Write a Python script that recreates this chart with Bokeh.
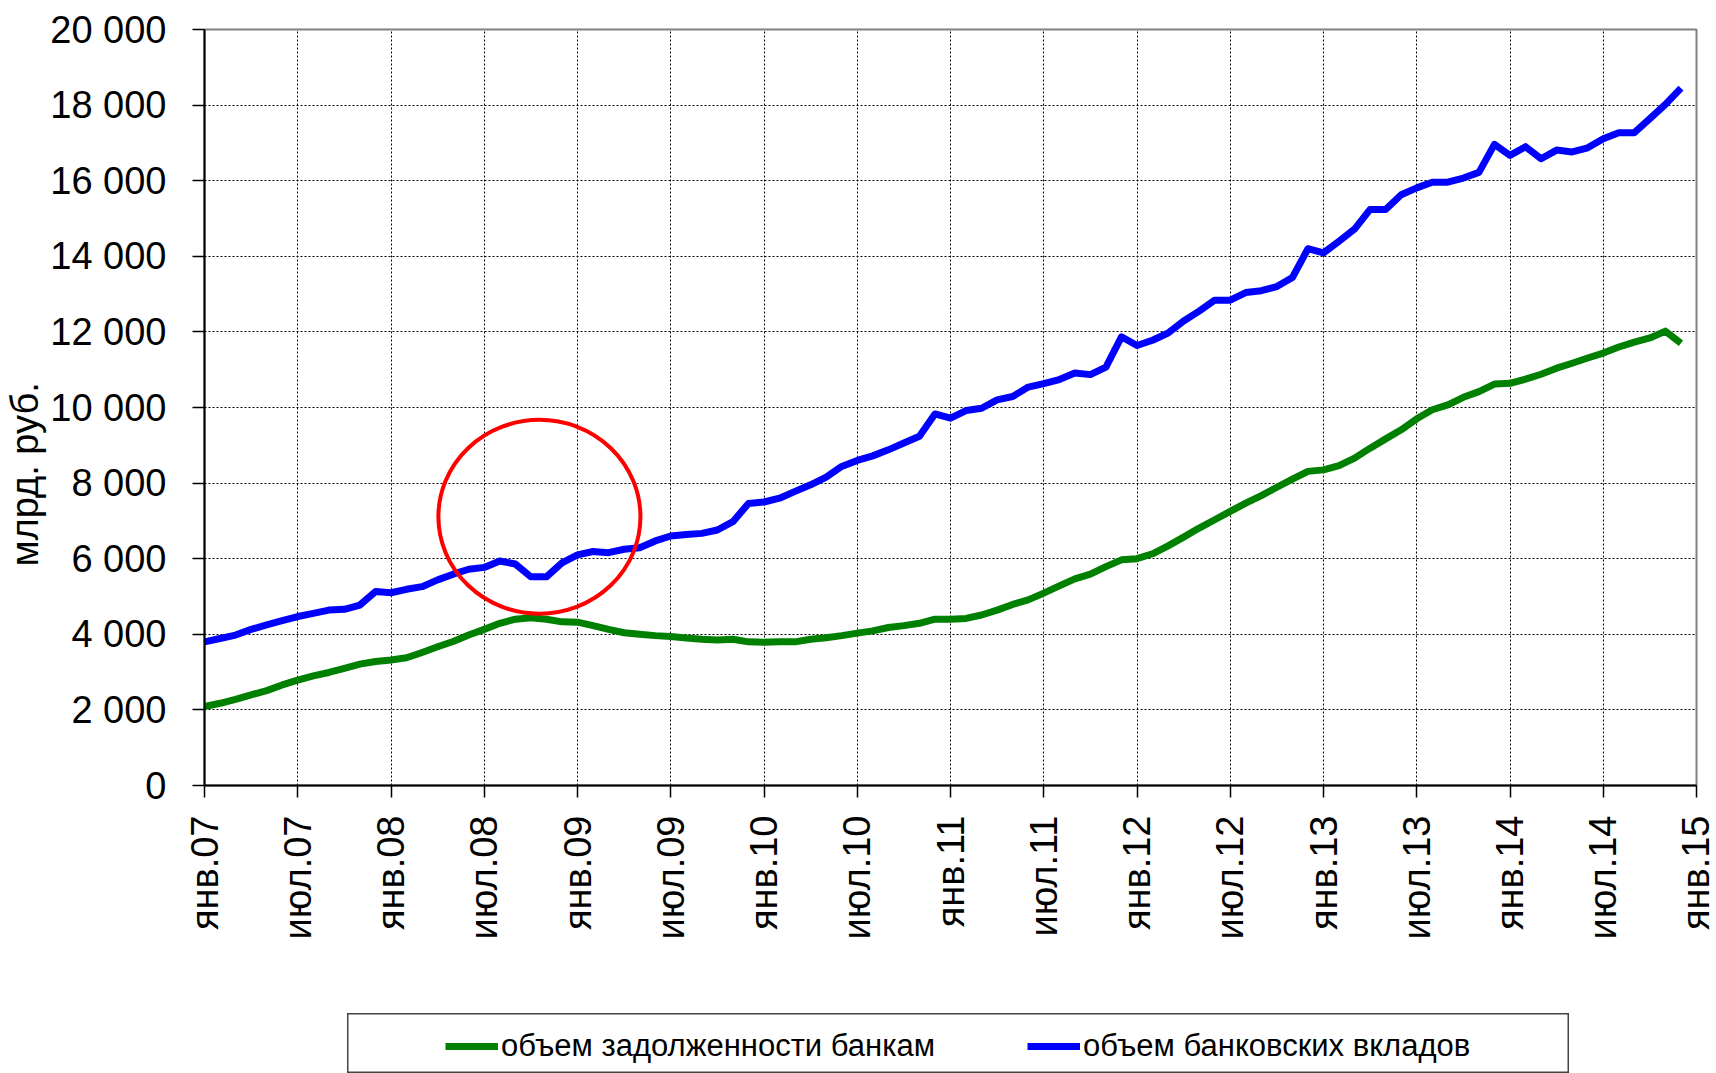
import math
from bokeh.plotting import figure
from bokeh.models import (Range1d, FixedTicker, Title, Legend, LegendItem,
                          ColumnDataSource, Spacer)
from bokeh.layouts import column, row
from bokeh.embed import file_html
from bokeh.resources import INLINE

# ---------------- DATA ----------------
# monthly observations, Jan 2007 .. Dec 2014 (index 0..95)
month_index = list(range(96))

# объем банковских вкладов, млрд руб.
deposits = [3800, 3890, 3980, 4130, 4250, 4360, 4470, 4555, 4640, 4660, 4775, 5130,
            5100, 5190, 5260, 5440, 5590, 5720, 5770, 5940, 5860, 5520, 5520, 5890,
            6100, 6190, 6160, 6250, 6290, 6470, 6600, 6640, 6670, 6760, 6980, 7460,
            7500, 7600, 7780, 7955, 8160, 8440, 8600, 8720, 8880, 9060, 9240, 9830,
            9720, 9920, 9980, 10200, 10290, 10540, 10630, 10740, 10910, 10870, 11070, 11870,
            11640, 11780, 11970, 12290, 12550, 12840, 12840, 13040, 13090, 13200, 13440, 14200,
            14090, 14400, 14720, 15240, 15240, 15630, 15810, 15960, 15960, 16070, 16220, 16960,
            16670, 16900, 16580, 16810, 16760, 16870, 17110, 17270, 17270, 17640, 18020, 18450]

# объем задолженности банкам, млрд руб.
debt = [2090, 2175, 2280, 2400, 2510, 2660, 2790, 2900, 2990, 3100, 3210, 3280,
        3320, 3380, 3520, 3670, 3810, 3980, 4130, 4290, 4400, 4440, 4400, 4330,
        4320, 4230, 4130, 4040, 4000, 3965, 3940, 3900, 3870, 3850, 3870, 3800,
        3790, 3800, 3800, 3870, 3910, 3965, 4030, 4090, 4180, 4230, 4290, 4400,
        4400, 4420, 4510, 4640, 4790, 4910, 5090, 5280, 5465, 5590, 5790, 5970,
        6000, 6130, 6340, 6570, 6810, 7030, 7250, 7470, 7670, 7890, 8105, 8310,
        8350, 8460, 8660, 8925, 9170, 9410, 9700, 9940, 10070, 10270, 10420, 10620,
        10640, 10750, 10880, 11040, 11170, 11310, 11440, 11600, 11730, 11840, 12020, 11700]

x_tick_positions = [0, 6, 12, 18, 24, 30, 36, 42, 48, 54, 60, 66, 72, 78, 84, 90, 96]
x_tick_labels = ["янв.07", "июл.07", "янв.08", "июл.08", "янв.09", "июл.09",
                 "янв.10", "июл.10", "янв.11", "июл.11", "янв.12", "июл.12",
                 "янв.13", "июл.13", "янв.14", "июл.14", "янв.15"]

y_tick_positions = [0, 2000, 4000, 6000, 8000, 10000, 12000, 14000, 16000, 18000, 20000]
y_tick_labels = ["0", "2 000", "4 000", "6 000", "8 000", "10 000",
                 "12 000", "14 000", "16 000", "18 000", "20 000"]

series_names = ["объем задолженности банкам", "объем банковских вкладов"]
y_title = "млрд. руб."

# highlight ellipse (data units: month index, value)
circle_x = [21.55]
circle_y = [7110]
circle_w = [13.0]
circle_h = [5130]

FONT = "Liberation Sans"
GREEN = "#008000"
BLUE = "#0000FF"

# ---------------- MAIN FIGURE ----------------
p = figure(width=1716, height=1013, output_backend="svg", toolbar_location=None,
           x_range=Range1d(0, 96), y_range=Range1d(0, 20000),
           min_border_left=204, min_border_right=20, min_border_top=29,
           min_border_bottom=228)
p.outline_line_color = "#808080"
p.outline_line_width = 2
p.background_fill_color = "white"
p.border_fill_color = "white"

# x axis
p.xaxis.ticker = FixedTicker(ticks=x_tick_positions)
p.xaxis.major_label_overrides = {pos: lab for pos, lab in zip(x_tick_positions, x_tick_labels)}
p.xaxis.major_label_orientation = math.pi / 2
p.xaxis.major_label_text_font = FONT
p.xaxis.major_label_text_font_size = "38px"
p.xaxis.major_label_text_color = "black"
p.xaxis.major_tick_out = 12
p.xaxis.major_tick_in = 0
p.xaxis.minor_tick_out = 0
p.xaxis.minor_tick_in = 0
p.xaxis.axis_line_width = 2
p.xaxis.axis_line_color = "black"
p.xaxis.major_tick_line_color = "black"
p.xaxis.major_tick_line_width = 1.5
p.xaxis.major_label_standoff = 18

# y axis
p.yaxis.ticker = FixedTicker(ticks=y_tick_positions)
p.yaxis.major_label_overrides = {pos: lab for pos, lab in zip(y_tick_positions, y_tick_labels)}
p.yaxis.major_label_text_font = FONT
p.yaxis.major_label_text_font_size = "38px"
p.yaxis.major_label_text_color = "black"
p.yaxis.major_tick_out = 12
p.yaxis.major_tick_in = 0
p.yaxis.minor_tick_out = 0
p.yaxis.minor_tick_in = 0
p.yaxis.axis_line_width = 2
p.yaxis.axis_line_color = "black"
p.yaxis.major_tick_line_color = "black"
p.yaxis.major_tick_line_width = 1.5
p.yaxis.major_label_standoff = 26

# grids
p.xgrid.ticker = FixedTicker(ticks=x_tick_positions)
p.ygrid.ticker = FixedTicker(ticks=y_tick_positions)
for g in (p.xgrid, p.ygrid):
    g.grid_line_color = "black"
    g.grid_line_dash = "2 2"
    g.grid_line_width = 1
    g.grid_line_alpha = 1.0

# series
p.line(month_index, debt, line_color=GREEN, line_width=7, line_join="round")
p.line(month_index, deposits, line_color=BLUE, line_width=7, line_join="round")

# highlight
p.ellipse(x=circle_x, y=circle_y, width=circle_w, height=circle_h,
          fill_color=None, line_color="#FF0000", line_width=4)

# y-axis title (left panel; starts 219px above the frame bottom like the original)
p.add_layout(Title(text=y_title, align="left", offset=219, standoff=3,
                   text_font=FONT, text_font_size="38px",
                   text_font_style="normal", text_color="black"), "left")

# ---------------- LEGEND BOX ----------------
lf = figure(width=1222, height=60, output_backend="svg", toolbar_location=None,
            x_range=Range1d(0, 1), y_range=Range1d(0, 1), min_border=0,
            x_axis_location=None, y_axis_location=None)
lf.xgrid.visible = False
lf.ygrid.visible = False
lf.outline_line_color = "#444444"
lf.outline_line_width = 2
lf.background_fill_color = "white"
lf.border_fill_color = "white"

# legend swatches: renderers whose points lie outside the visible range
swatch_g = ColumnDataSource(dict(x=[5, 6], y=[5, 5]))
swatch_b = ColumnDataSource(dict(x=[5, 6], y=[5, 5]))
rg = lf.line("x", "y", source=swatch_g, line_color=GREEN, line_width=7)
rb = lf.line("x", "y", source=swatch_b, line_color=BLUE, line_width=7)

leg = Legend(items=[LegendItem(label=series_names[0], renderers=[rg]),
                    LegendItem(label=series_names[1], renderers=[rb])],
             location=(98, 9), orientation="horizontal", padding=0, margin=0,
             spacing=92, glyph_width=53, glyph_height=20, label_standoff=3,
             border_line_alpha=0, background_fill_alpha=0,
             label_text_font=FONT, label_text_font_size="31px",
             label_text_color="black")
lf.add_layout(leg)

layout = column(p, row(Spacer(width=347, height=60), lf))

open("out.html", "w").write(file_html(layout, INLINE))
